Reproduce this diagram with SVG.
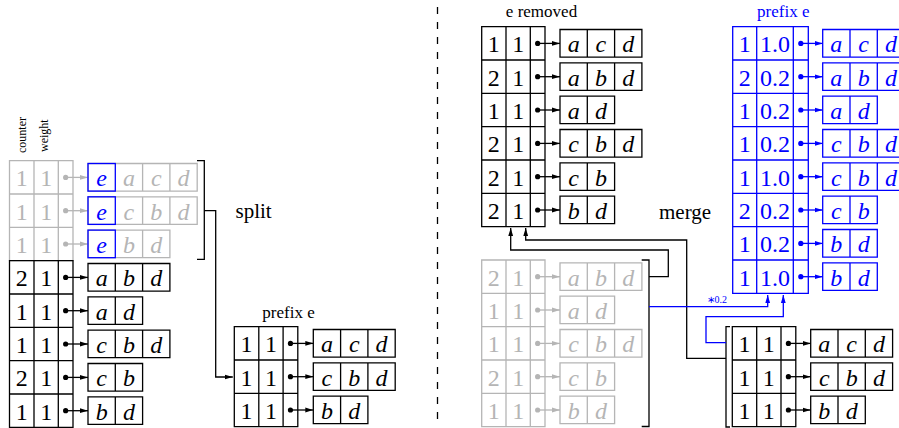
<svg xmlns="http://www.w3.org/2000/svg" width="899" height="428" viewBox="0 0 899 428">
<defs>
<style>
.k{fill:none;stroke:#000;stroke-width:1.3}
.g{fill:none;stroke:#b5b5b5;stroke-width:1.3}
.b{fill:none;stroke:#0000ff;stroke-width:1.3}
text{font-family:"Liberation Serif","Times New Roman",serif;font-size:24px;text-anchor:middle}
.i{font-style:italic}
.lbl{font-size:17px}
.big{font-size:21px;text-anchor:start}
.rot{font-size:12px;text-anchor:start}
.sm{font-size:10px;text-anchor:start}
</style>
<marker id="ak" markerUnits="userSpaceOnUse" markerWidth="8" markerHeight="6" viewBox="0 0 8 6" refX="8" refY="3" orient="auto"><path d="M0,0.6L8,3L0,5.4z" fill="#000"/></marker>
<marker id="ag" markerUnits="userSpaceOnUse" markerWidth="8" markerHeight="6" viewBox="0 0 8 6" refX="8" refY="3" orient="auto"><path d="M0,0.6L8,3L0,5.4z" fill="#b5b5b5"/></marker>
<marker id="ab" markerUnits="userSpaceOnUse" markerWidth="8" markerHeight="6" viewBox="0 0 8 6" refX="8" refY="3" orient="auto"><path d="M0,0.6L8,3L0,5.4z" fill="#0000ff"/></marker>
</defs>
<rect width="899" height="428" fill="#fff"/>

<!-- column labels -->
<g id="colLabels" fill="#000">
<text class="rot" transform="translate(26,153) rotate(-90)">counter</text>
<text class="rot" transform="translate(47.5,152) rotate(-90)">weight</text>
</g>

<!-- Table A: original table (left) -->
<g id="tableA">
 <g fill="#b5b5b5">
  <path class="g" d="M9.5,160.7H73V260.7H9.5Z M34,160.7V260.7 M58.3,160.7V260.7 M9.5,194H73 M9.5,227.3H73"/>
  <text x="21.75" y="186.2">1</text><text x="46.15" y="186.2">1</text>
  <text x="21.75" y="219.5">1</text><text x="46.15" y="219.5">1</text>
  <text x="21.75" y="252.8">1</text><text x="46.15" y="252.8">1</text>
  <circle cx="65.65" cy="177.4" r="2.6"/><circle cx="65.65" cy="210.7" r="2.6"/><circle cx="65.65" cy="244" r="2.6"/>
  <path class="g" d="M65.65,177.4H88" marker-end="url(#ag)"/>
  <path class="g" d="M65.65,210.7H88" marker-end="url(#ag)"/>
  <path class="g" d="M65.65,244H88" marker-end="url(#ag)"/>
  <path class="g" d="M88,163.5H197.2V191.1H88Z M142.6,163.5V191.1 M169.9,163.5V191.1 M88,196.8H197.2V224.4H88Z M142.6,196.8V224.4 M169.9,196.8V224.4 M88,230.1H169.9V257.7H88Z M142.6,230.1V257.7"/>
  <rect class="b" x="88" y="163.5" width="27.3" height="27.6"/>
  <rect class="b" x="88" y="196.8" width="27.3" height="27.6"/>
  <rect class="b" x="88" y="230.1" width="27.3" height="27.6"/>
  <g class="i">
   <text x="101.65" y="186.2" fill="#0000ff">e</text><text x="128.95" y="186.2">a</text><text x="156.25" y="186.2">c</text><text x="183.55" y="186.2">d</text>
   <text x="101.65" y="219.5" fill="#0000ff">e</text><text x="128.95" y="219.5">c</text><text x="156.25" y="219.5">b</text><text x="183.55" y="219.5">d</text>
   <text x="101.65" y="252.8" fill="#0000ff">e</text><text x="128.95" y="252.8">b</text><text x="156.25" y="252.8">d</text>
  </g>
 </g>
 <g fill="#000">
  <path class="k" d="M9.5,260.7H73V427.3H9.5Z M34,260.7V427.3 M58.3,260.7V427.3 M9.5,294H73 M9.5,327.3H73 M9.5,360.7H73 M9.5,394H73"/>
  <text x="21.75" y="286.2">2</text><text x="46.15" y="286.2">1</text>
  <text x="21.75" y="319.5">1</text><text x="46.15" y="319.5">1</text>
  <text x="21.75" y="352.8">1</text><text x="46.15" y="352.8">1</text>
  <text x="21.75" y="386.2">2</text><text x="46.15" y="386.2">1</text>
  <text x="21.75" y="419.5">1</text><text x="46.15" y="419.5">1</text>
  <circle cx="65.65" cy="277.4" r="2.6"/><circle cx="65.65" cy="310.7" r="2.6"/><circle cx="65.65" cy="344" r="2.6"/><circle cx="65.65" cy="377.4" r="2.6"/><circle cx="65.65" cy="410.7" r="2.6"/>
  <path class="k" d="M65.65,277.4H88" marker-end="url(#ak)"/>
  <path class="k" d="M65.65,310.7H88" marker-end="url(#ak)"/>
  <path class="k" d="M65.65,344H88" marker-end="url(#ak)"/>
  <path class="k" d="M65.65,377.4H88" marker-end="url(#ak)"/>
  <path class="k" d="M65.65,410.7H88" marker-end="url(#ak)"/>
  <path class="k" d="M88,263.5H169.9V291.1H88Z M115.3,263.5V291.1 M142.6,263.5V291.1 M88,296.8H142.6V324.4H88Z M115.3,296.8V324.4 M88,330.1H169.9V357.7H88Z M115.3,330.1V357.7 M142.6,330.1V357.7 M88,363.5H142.6V391.1H88Z M115.3,363.5V391.1 M88,396.8H142.6V424.4H88Z M115.3,396.8V424.4"/>
  <g class="i">
   <text x="101.65" y="286.2">a</text><text x="128.95" y="286.2">b</text><text x="156.25" y="286.2">d</text>
   <text x="101.65" y="319.5">a</text><text x="128.95" y="319.5">d</text>
   <text x="101.65" y="352.8">c</text><text x="128.95" y="352.8">b</text><text x="156.25" y="352.8">d</text>
   <text x="101.65" y="386.2">c</text><text x="128.95" y="386.2">b</text>
   <text x="101.65" y="419.5">b</text><text x="128.95" y="419.5">d</text>
  </g>
 </g>
</g>

<!-- Table B: prefix e (left) -->
<g id="tableB" fill="#000">
 <text class="lbl" x="288.5" y="318">prefix e</text>
 <path class="k" d="M234.3,326.7H297.8V426.7H234.3Z M258.8,326.7V426.7 M283.1,326.7V426.7 M234.3,360H297.8 M234.3,393.3H297.8"/>
 <text x="246.55" y="352.2">1</text><text x="270.95" y="352.2">1</text>
 <text x="246.55" y="385.5">1</text><text x="270.95" y="385.5">1</text>
 <text x="246.55" y="418.8">1</text><text x="270.95" y="418.8">1</text>
 <circle cx="290.45" cy="343.4" r="2.6"/><circle cx="290.45" cy="376.7" r="2.6"/><circle cx="290.45" cy="410" r="2.6"/>
 <path class="k" d="M290.45,343.4H313.3" marker-end="url(#ak)"/>
 <path class="k" d="M290.45,376.7H313.3" marker-end="url(#ak)"/>
 <path class="k" d="M290.45,410H313.3" marker-end="url(#ak)"/>
 <path class="k" d="M313.3,329.5H395.2V357.1H313.3Z M340.6,329.5V357.1 M367.9,329.5V357.1 M313.3,362.8H395.2V390.4H313.3Z M340.6,362.8V390.4 M367.9,362.8V390.4 M313.3,396.1H367.9V423.7H313.3Z M340.6,396.1V423.7"/>
 <g class="i">
  <text x="326.95" y="352.2">a</text><text x="354.25" y="352.2">c</text><text x="381.55" y="352.2">d</text>
  <text x="326.95" y="385.5">c</text><text x="354.25" y="385.5">b</text><text x="381.55" y="385.5">d</text>
  <text x="326.95" y="418.8">b</text><text x="354.25" y="418.8">d</text>
 </g>
</g>

<!-- Table C: e removed -->
<g id="tableC" fill="#000">
 <text class="lbl" x="541.5" y="17.3">e removed</text>
 <path class="k" d="M481.7,26.7H545V226.7H481.7Z M506,26.7V226.7 M530.3,26.7V226.7 M481.7,60H545 M481.7,93.3H545 M481.7,126.7H545 M481.7,160H545 M481.7,193.3H545"/>
 <text x="493.85" y="52.2">1</text><text x="518.15" y="52.2">1</text>
 <text x="493.85" y="85.5">2</text><text x="518.15" y="85.5">1</text>
 <text x="493.85" y="118.8">1</text><text x="518.15" y="118.8">1</text>
 <text x="493.85" y="152.2">2</text><text x="518.15" y="152.2">1</text>
 <text x="493.85" y="185.5">2</text><text x="518.15" y="185.5">1</text>
 <text x="493.85" y="218.8">2</text><text x="518.15" y="218.8">1</text>
 <circle cx="537.65" cy="43.4" r="2.6"/><circle cx="537.65" cy="76.7" r="2.6"/><circle cx="537.65" cy="110" r="2.6"/><circle cx="537.65" cy="143.4" r="2.6"/><circle cx="537.65" cy="176.7" r="2.6"/><circle cx="537.65" cy="210" r="2.6"/>
 <path class="k" d="M537.65,43.4H560" marker-end="url(#ak)"/>
 <path class="k" d="M537.65,76.7H560" marker-end="url(#ak)"/>
 <path class="k" d="M537.65,110H560" marker-end="url(#ak)"/>
 <path class="k" d="M537.65,143.4H560" marker-end="url(#ak)"/>
 <path class="k" d="M537.65,176.7H560" marker-end="url(#ak)"/>
 <path class="k" d="M537.65,210H560" marker-end="url(#ak)"/>
 <path class="k" d="M560,29.5H641.9V57.1H560Z M587.3,29.5V57.1 M614.6,29.5V57.1 M560,62.8H641.9V90.4H560Z M587.3,62.8V90.4 M614.6,62.8V90.4 M560,96.1H614.6V123.7H560Z M587.3,96.1V123.7 M560,129.5H641.9V157.1H560Z M587.3,129.5V157.1 M614.6,129.5V157.1 M560,162.8H614.6V190.4H560Z M587.3,162.8V190.4 M560,196.1H614.6V223.7H560Z M587.3,196.1V223.7"/>
 <g class="i">
  <text x="573.65" y="52.2">a</text><text x="600.95" y="52.2">c</text><text x="628.25" y="52.2">d</text>
  <text x="573.65" y="85.5">a</text><text x="600.95" y="85.5">b</text><text x="628.25" y="85.5">d</text>
  <text x="573.65" y="118.8">a</text><text x="600.95" y="118.8">d</text>
  <text x="573.65" y="152.2">c</text><text x="600.95" y="152.2">b</text><text x="628.25" y="152.2">d</text>
  <text x="573.65" y="185.5">c</text><text x="600.95" y="185.5">b</text>
  <text x="573.65" y="218.8">b</text><text x="600.95" y="218.8">d</text>
 </g>
</g>

<!-- Table D: grey remainder -->
<g id="tableD" fill="#b5b5b5">
 <path class="g" d="M481.7,260H545V426.7H481.7Z M506,260V426.7 M530.3,260V426.7 M481.7,293.3H545 M481.7,326.7H545 M481.7,360H545 M481.7,393.3H545"/>
 <text x="493.85" y="285.5">2</text><text x="518.15" y="285.5">1</text>
 <text x="493.85" y="318.8">1</text><text x="518.15" y="318.8">1</text>
 <text x="493.85" y="352.2">1</text><text x="518.15" y="352.2">1</text>
 <text x="493.85" y="385.5">2</text><text x="518.15" y="385.5">1</text>
 <text x="493.85" y="418.8">1</text><text x="518.15" y="418.8">1</text>
 <circle cx="537.65" cy="276.7" r="2.6"/><circle cx="537.65" cy="310" r="2.6"/><circle cx="537.65" cy="343.4" r="2.6"/><circle cx="537.65" cy="376.7" r="2.6"/><circle cx="537.65" cy="410" r="2.6"/>
 <path class="g" d="M537.65,276.7H560" marker-end="url(#ag)"/>
 <path class="g" d="M537.65,310H560" marker-end="url(#ag)"/>
 <path class="g" d="M537.65,343.4H560" marker-end="url(#ag)"/>
 <path class="g" d="M537.65,376.7H560" marker-end="url(#ag)"/>
 <path class="g" d="M537.65,410H560" marker-end="url(#ag)"/>
 <path class="g" d="M560,262.8H641.9V290.4H560Z M587.3,262.8V290.4 M614.6,262.8V290.4 M560,296.1H614.6V323.7H560Z M587.3,296.1V323.7 M560,329.5H641.9V357.1H560Z M587.3,329.5V357.1 M614.6,329.5V357.1 M560,362.8H614.6V390.4H560Z M587.3,362.8V390.4 M560,396.1H614.6V423.7H560Z M587.3,396.1V423.7"/>
 <g class="i">
  <text x="573.65" y="285.5">a</text><text x="600.95" y="285.5">b</text><text x="628.25" y="285.5">d</text>
  <text x="573.65" y="318.8">a</text><text x="600.95" y="318.8">d</text>
  <text x="573.65" y="352.2">c</text><text x="600.95" y="352.2">b</text><text x="628.25" y="352.2">d</text>
  <text x="573.65" y="385.5">c</text><text x="600.95" y="385.5">b</text>
  <text x="573.65" y="418.8">b</text><text x="600.95" y="418.8">d</text>
 </g>
</g>

<!-- Table E: merged prefix e (blue) -->
<g id="tableE" fill="#0000ff">
 <text class="lbl" x="783.3" y="17">prefix e</text>
 <path class="b" d="M732.7,26.7H808.3V293.3H732.7Z M756.7,26.7V293.3 M793.3,26.7V293.3 M732.7,60H808.3 M732.7,93.3H808.3 M732.7,126.7H808.3 M732.7,160H808.3 M732.7,193.3H808.3 M732.7,226.7H808.3 M732.7,260H808.3"/>
 <text x="744.7" y="52.2">1</text><text x="775" y="52.2">1.0</text>
 <text x="744.7" y="85.5">2</text><text x="775" y="85.5">0.2</text>
 <text x="744.7" y="118.8">1</text><text x="775" y="118.8">0.2</text>
 <text x="744.7" y="152.2">1</text><text x="775" y="152.2">0.2</text>
 <text x="744.7" y="185.5">1</text><text x="775" y="185.5">1.0</text>
 <text x="744.7" y="218.8">2</text><text x="775" y="218.8">0.2</text>
 <text x="744.7" y="252.2">1</text><text x="775" y="252.2">0.2</text>
 <text x="744.7" y="285.5">1</text><text x="775" y="285.5">1.0</text>
 <circle cx="800.8" cy="43.4" r="2.6"/><circle cx="800.8" cy="76.7" r="2.6"/><circle cx="800.8" cy="110" r="2.6"/><circle cx="800.8" cy="143.4" r="2.6"/><circle cx="800.8" cy="176.7" r="2.6"/><circle cx="800.8" cy="210" r="2.6"/><circle cx="800.8" cy="243.4" r="2.6"/><circle cx="800.8" cy="276.7" r="2.6"/>
 <path class="b" d="M800.8,43.4H822.7" marker-end="url(#ab)"/>
 <path class="b" d="M800.8,76.7H822.7" marker-end="url(#ab)"/>
 <path class="b" d="M800.8,110H822.7" marker-end="url(#ab)"/>
 <path class="b" d="M800.8,143.4H822.7" marker-end="url(#ab)"/>
 <path class="b" d="M800.8,176.7H822.7" marker-end="url(#ab)"/>
 <path class="b" d="M800.8,210H822.7" marker-end="url(#ab)"/>
 <path class="b" d="M800.8,243.4H822.7" marker-end="url(#ab)"/>
 <path class="b" d="M800.8,276.7H822.7" marker-end="url(#ab)"/>
 <path class="b" d="M822.7,29.5H904.6V57.1H822.7Z M850,29.5V57.1 M877.3,29.5V57.1 M822.7,62.8H904.6V90.4H822.7Z M850,62.8V90.4 M877.3,62.8V90.4 M822.7,96.1H877.3V123.7H822.7Z M850,96.1V123.7 M822.7,129.5H904.6V157.1H822.7Z M850,129.5V157.1 M877.3,129.5V157.1 M822.7,162.8H904.6V190.4H822.7Z M850,162.8V190.4 M877.3,162.8V190.4 M822.7,196.1H877.3V223.7H822.7Z M850,196.1V223.7 M822.7,229.5H877.3V257.1H822.7Z M850,229.5V257.1 M822.7,262.8H877.3V290.4H822.7Z M850,262.8V290.4"/>
 <g class="i">
  <text x="836.35" y="52.2">a</text><text x="863.65" y="52.2">c</text><text x="890.95" y="52.2">d</text>
  <text x="836.35" y="85.5">a</text><text x="863.65" y="85.5">b</text><text x="890.95" y="85.5">d</text>
  <text x="836.35" y="118.8">a</text><text x="863.65" y="118.8">d</text>
  <text x="836.35" y="152.2">c</text><text x="863.65" y="152.2">b</text><text x="890.95" y="152.2">d</text>
  <text x="836.35" y="185.5">c</text><text x="863.65" y="185.5">b</text><text x="890.95" y="185.5">d</text>
  <text x="836.35" y="218.8">c</text><text x="863.65" y="218.8">b</text>
  <text x="836.35" y="252.2">b</text><text x="863.65" y="252.2">d</text>
  <text x="836.35" y="285.5">b</text><text x="863.65" y="285.5">d</text>
 </g>
</g>

<!-- Table F: prefix e copy (bottom right) -->
<g id="tableF" fill="#000">
 <path class="k" d="M732.3,326.7H795.8V426.7H732.3Z M756.7,326.7V426.7 M781,326.7V426.7 M732.3,360H795.8 M732.3,393.3H795.8"/>
 <text x="744.5" y="352.2">1</text><text x="768.85" y="352.2">1</text>
 <text x="744.5" y="385.5">1</text><text x="768.85" y="385.5">1</text>
 <text x="744.5" y="418.8">1</text><text x="768.85" y="418.8">1</text>
 <circle cx="788.4" cy="343.4" r="2.6"/><circle cx="788.4" cy="376.7" r="2.6"/><circle cx="788.4" cy="410" r="2.6"/>
 <path class="k" d="M788.4,343.4H810.7" marker-end="url(#ak)"/>
 <path class="k" d="M788.4,376.7H810.7" marker-end="url(#ak)"/>
 <path class="k" d="M788.4,410H810.7" marker-end="url(#ak)"/>
 <path class="k" d="M810.7,329.5H892.6V357.1H810.7Z M838,329.5V357.1 M865.3,329.5V357.1 M810.7,362.8H892.6V390.4H810.7Z M838,362.8V390.4 M865.3,362.8V390.4 M810.7,396.1H865.3V423.7H810.7Z M838,396.1V423.7"/>
 <g class="i">
  <text x="824.35" y="352.2">a</text><text x="851.65" y="352.2">c</text><text x="878.95" y="352.2">d</text>
  <text x="824.35" y="385.5">c</text><text x="851.65" y="385.5">b</text><text x="878.95" y="385.5">d</text>
  <text x="824.35" y="418.8">b</text><text x="851.65" y="418.8">d</text>
 </g>
</g>

<!-- connectors -->
<g id="connectors">
 <path d="M437.5,7V427" fill="none" stroke="#000" stroke-width="1.3" stroke-dasharray="7,8"/>
 <path class="k" d="M197,160.7H204.3V259.3H197"/>
 <path class="k" d="M204.3,210.7H215.7V377H232.8" marker-end="url(#ak)"/>
 <path class="k" d="M641.7,260H649V426.5H641.7"/>
 <path class="k" d="M649,276.7H668.3V250H510.7V228" marker-end="url(#ak)"/>
 <path class="k" d="M730,326.7H726V427H730"/>
 <path class="k" d="M726,358.3H686.7V240H525.7V228" marker-end="url(#ak)"/>
 <path class="b" d="M649,306.7H767.7V295" marker-end="url(#ab)"/>
 <path class="b" d="M726,342.7H706V316.7H783.3V295" marker-end="url(#ab)"/>
</g>

<!-- operation labels -->
<g id="opLabels">
 <text class="big" x="235.5" y="217.5">split</text>
 <text class="big" x="659" y="218.5">merge</text>
 <text class="sm" x="706.5" y="302.5" fill="#0000ff">∗0.2</text>
</g>
</svg>
